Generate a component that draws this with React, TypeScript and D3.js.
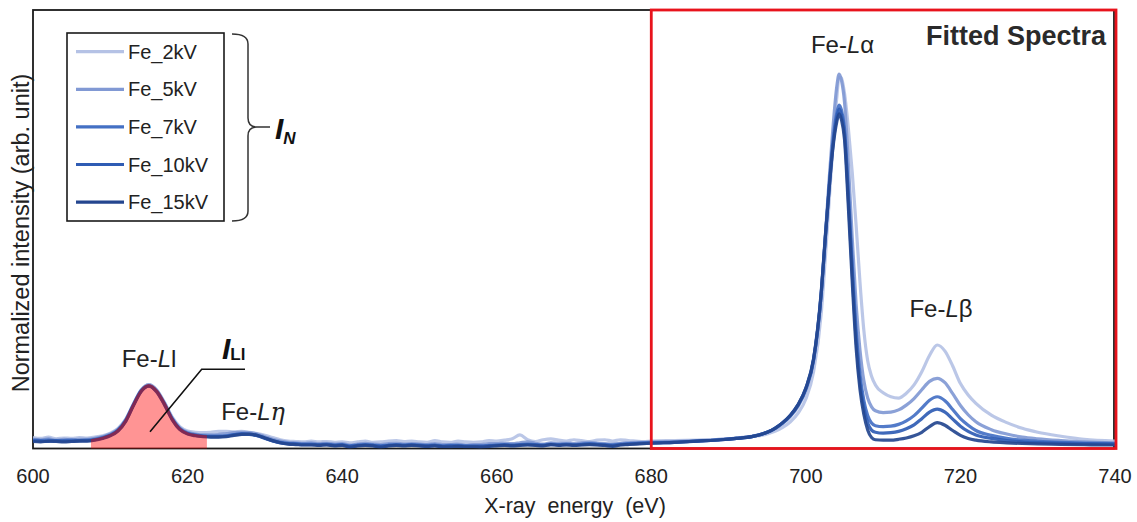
import React from "react";
import * as d3 from "d3";

// ---------- DATA ----------
const energyLeft = [
  600, 601, 602, 603, 604, 605, 606, 607, 608, 609,
  610, 611, 612, 613, 614, 615, 616, 617, 618, 619,
  620, 621, 622, 623, 624, 625, 626, 627, 628, 629,
  630, 631, 632, 633, 634, 635, 636, 637, 638, 639,
  640, 641, 642, 643, 644, 645, 646, 647, 648, 649,
  650, 651, 652, 653, 654, 655, 656, 657, 658, 659,
  660, 661, 662, 663, 664, 665, 666, 667, 668, 669,
  670, 671, 672, 673, 674, 675, 676, 677, 678, 679,
  680,
];
const energyRight = [
  683, 686, 689, 691, 693, 695, 696, 697, 698, 699,
  700, 701, 702, 702.5, 703, 703.5, 704, 704.3, 704.6, 705,
  705.5, 706, 706.5, 707, 707.5, 708, 708.5, 709, 710, 711,
  712, 713, 714, 715, 716, 717, 718, 719, 720, 721,
  722, 724, 726, 728, 730, 733, 736, 740,
];

const fe2kVLeft = [
  2.5, 2.3, 2.6, 2.2, 2.4, 2.3, 2.5, 2.4, 2.6, 2.9,
  3.5, 4.6, 6.7, 10.2, 13.4, 14.6, 13.4, 10.6, 7.2, 5.0,
  4.0, 3.7, 3.6, 3.7, 3.9, 3.9, 3.8, 3.9, 3.7, 3.4,
  3.0, 2.5, 2.0, 1.7, 1.6, 1.5, 1.7, 1.5, 1.6, 1.4,
  1.5, 1.3, 1.5, 1.7, 1.4, 1.5, 1.7, 1.8, 1.6, 1.7,
  1.5, 1.4, 1.8, 1.5, 1.4, 1.7, 1.5, 1.4, 1.5, 1.8,
  1.7, 1.9, 2.2, 3.1, 2.0, 1.6, 2.0, 2.2, 1.9, 1.7,
  2.0, 1.8, 1.6, 1.9, 2.0, 1.7, 2.0, 1.8, 1.7, 1.6,
  1.7,
];
const fe2kVRight = [
  1.8, 1.9, 2.1, 2.3, 2.7, 3.3, 3.9, 4.8, 6.1, 8.1,
  11.3, 17.5, 31, 43, 56, 69, 80, 84.7, 84.5, 81,
  73, 63, 51, 38, 27, 20, 16.5, 14.5, 12.7, 11.8,
  11.5, 12.6, 14.5, 17.5, 21.2, 23.6, 22.2, 18.8, 14.8, 12.2,
  10.3, 7.6, 5.9, 4.6, 3.7, 2.8, 2.1, 1.7,
];

const fe5kVLeft = [
  2.1, 2.0, 2.2, 1.9, 2.1, 2.0, 2.1, 2.1, 2.3, 2.7,
  3.3, 4.4, 6.6, 10.1, 13.3, 14.5, 13.3, 10.4, 7.0, 4.7,
  3.7, 3.3, 3.1, 3.1, 3.2, 3.4, 3.6, 3.7, 3.6, 3.3,
  2.7, 2.1, 1.7, 1.4, 1.3, 1.2, 1.3, 1.1, 1.2, 1.0,
  1.1, 0.8, 1.0, 1.2, 1.0, 0.9, 1.1, 1.2, 1.0, 1.1,
  1.0, 0.9, 1.1, 0.9, 0.9, 1.0, 0.8, 0.9, 0.9, 1.1,
  1.1, 1.2, 1.1, 1.3, 1.5, 1.2, 1.0, 1.3, 1.2, 1.2,
  1.1, 1.3, 1.4, 1.2, 1.1, 1.0, 1.2, 1.3, 1.4, 1.4,
  1.5,
];
const fe5kVRight = [
  1.6, 1.8, 2.1, 2.4, 2.8, 3.7, 4.5, 5.7, 7.3, 9.6,
  13.3, 20.0, 35.5, 48, 61, 73, 82.5, 85.4, 84, 79,
  65, 48, 33, 22.5, 15.5, 11.5, 9.5, 8.6, 8.2, 8.3,
  8.8, 9.9, 11.4, 13.4, 15.3, 16.0, 15.0, 12.5, 9.8, 7.7,
  6.1, 4.3, 3.3, 2.6, 2.2, 1.8, 1.5, 1.3,
];

const fe7kVLeft = [
  1.9, 1.8, 1.9, 1.7, 1.8, 1.9, 1.8, 1.9, 2.1, 2.5,
  3.1, 4.2, 6.4, 10.0, 13.2, 14.3, 13.1, 10.2, 6.8, 4.5,
  3.5, 3.1, 2.9, 2.8, 2.8, 2.9, 3.2, 3.4, 3.3, 3.0,
  2.4, 1.8, 1.4, 1.2, 1.1, 1.0, 1.0, 0.9, 1.0, 0.8,
  0.9, 0.6, 0.8, 0.9, 0.8, 0.6, 0.8, 0.9, 0.8, 0.9,
  0.8, 0.7, 0.8, 0.6, 0.7, 0.7, 0.6, 0.6, 0.6, 0.7,
  0.8, 0.9, 0.8, 0.9, 1.0, 0.9, 0.8, 1.0, 0.9, 1.0,
  0.9, 1.0, 1.1, 1.0, 0.9, 0.8, 1.0, 1.1, 1.2, 1.3,
  1.3,
];
const fe7kVRight = [
  1.4, 1.7, 2.0, 2.3, 2.7, 3.7, 4.6, 5.8, 7.5, 9.9,
  13.6, 20.2, 35.5, 47.5, 59.5, 70, 76.5, 78.3, 77.2, 73,
  58.5, 42, 27, 17, 11, 7.5, 5.8, 5.2, 5.0, 5.1,
  5.5, 6.3, 7.5, 9.2, 11.0, 11.8, 10.9, 8.9, 6.8, 5.3,
  4.1, 3.0, 2.3, 1.9, 1.65, 1.4, 1.25, 1.1,
];

const fe10kVLeft = [
  1.8, 1.7, 1.6, 1.8, 1.7, 1.7, 1.8, 1.8, 2.0, 2.4,
  3.0, 4.1, 6.3, 9.9, 13.1, 14.2, 12.9, 10.0, 6.7, 4.4,
  3.4, 3.0, 2.8, 2.7, 2.7, 2.8, 3.1, 3.3, 3.2, 2.9,
  2.3, 1.7, 1.3, 1.1, 1.0, 0.9, 0.9, 0.8, 0.9, 0.7,
  0.8, 0.5, 0.7, 0.8, 0.7, 0.5, 0.7, 0.8, 0.7, 0.8,
  0.7, 0.6, 0.7, 0.5, 0.6, 0.6, 0.5, 0.5, 0.5, 0.6,
  0.7, 0.8, 0.7, 0.8, 0.9, 0.8, 0.7, 0.9, 0.8, 0.9,
  0.8, 0.9, 1.0, 0.9, 0.8, 0.7, 0.9, 1.0, 1.1, 1.2,
  1.3,
];
const fe10kVRight = [
  1.4, 1.7, 2.0, 2.3, 2.7, 3.7, 4.6, 5.9, 7.6, 10.0,
  13.7, 20.3, 35.5, 47.5, 59, 69, 75.5, 77.4, 76.2, 71.8,
  57, 40, 25, 15, 9.3, 5.8, 4.2, 3.7, 3.5, 3.6,
  3.9, 4.5, 5.4, 6.8, 8.3, 9.0, 8.3, 6.7, 5.1, 3.9,
  3.1, 2.3, 1.8, 1.5, 1.35, 1.2, 1.1, 1.0,
];

const fe15kVLeft = [
  1.6, 1.5, 1.7, 1.6, 1.5, 1.6, 1.7, 1.7, 1.9, 2.3,
  2.9, 4.0, 6.2, 9.8, 13.0, 14.3, 13.0, 10.1, 6.6, 4.3,
  3.3, 2.9, 2.7, 2.6, 2.6, 2.7, 3.0, 3.2, 3.3, 3.0,
  2.4, 1.8, 1.3, 1.0, 0.9, 0.8, 0.8, 0.7, 0.8, 0.6,
  0.7, 0.3, 0.6, 0.7, 0.6, 0.3, 0.6, 0.7, 0.6, 0.7,
  0.6, 0.5, 0.6, 0.4, 0.4, 0.5, 0.4, 0.4, 0.3, 0.5,
  0.6, 0.7, 0.6, 0.7, 0.8, 0.7, 0.6, 0.9, 0.7, 0.8,
  0.7, 0.8, 0.9, 0.8, 0.7, 0.5, 0.8, 0.9, 1.0, 1.1,
  1.2,
];
const fe15kVRight = [
  1.4, 1.7, 2.0, 2.3, 2.7, 3.7, 4.6, 5.9, 7.6, 10.0,
  13.8, 20.5, 36, 48, 59, 68.5, 74.5, 76.3, 75, 70.5,
  55, 38, 23, 13.5, 7.8, 4.2, 2.5, 2.0, 1.9, 1.9,
  2.1, 2.4, 2.9, 3.7, 5.0, 5.9, 5.3, 4.1, 3.0, 2.3,
  1.9, 1.5, 1.3, 1.15, 1.05, 0.95, 0.85, 0.8,
];

const seriesNames = ["Fe_2kV", "Fe_5kV", "Fe_7kV", "Fe_10kV", "Fe_15kV"];
const seriesValues = [
  [...fe2kVLeft, ...fe2kVRight],
  [...fe5kVLeft, ...fe5kVRight],
  [...fe7kVLeft, ...fe7kVRight],
  [...fe10kVLeft, ...fe10kVRight],
  [...fe15kVLeft, ...fe15kVRight],
];
const seriesColors = ["#b5c2e5", "#8199d4", "#4470c4", "#2f5cb4", "#24468f"];
const energy = [...energyLeft, ...energyRight];

const xTicks = [600, 620, 640, 660, 680, 700, 720, 740];
const llFillRange = [607.5, 622.5];
const fittedRange = [680, 740];

// ---------- CHART ----------
const W = 1137;
const H = 522;
const FONT = "'Liberation Sans', Arial, Helvetica, sans-serif";

export default function App() {
  const x = d3.scaleLinear().domain([600, 740]).range([33, 1115]);
  const y = d3.scaleLinear().domain([0, 100]).range([448.5, 10]);

  const pts = (vals: number[]) => energy.map((e, i) => [e, vals[i]] as [number, number]);
  const line = d3
    .line<[number, number]>()
    .x((d) => x(d[0]))
    .y((d) => y(d[1]))
    .curve(d3.curveMonotoneX);
  const area = d3
    .area<[number, number]>()
    .x((d) => x(d[0]))
    .y0(y(0))
    .y1((d) => y(d[1]))
    .curve(d3.curveMonotoneX);

  const llSeries = pts(seriesValues[4]).filter((d) => d[0] >= 605 && d[0] <= 625);

  const legX = 67, legY = 33, legW = 157, legH = 188;
  const rowY = (i: number) => 51.7 + i * 37.6;

  return (
    <svg
      width={W}
      height={H}
      style={{ position: "absolute", left: 0, top: 0, display: "block", background: "#fff" }}
      fontFamily={FONT}
    >
      <defs>
        <clipPath id="llclip">
          <rect x={x(llFillRange[0])} y={0} width={x(llFillRange[1]) - x(llFillRange[0])} height={y(0)} />
        </clipPath>
        <clipPath id="plotclip">
          <rect x={33} y={10} width={1082} height={438.5} />
        </clipPath>
      </defs>

      {/* frame */}
      <rect x={33} y={10} width={x(740) - 34} height={y(0) - 10} fill="none" stroke="#1a1a1a" strokeWidth={1.8} />

      {/* spectra */}
      <g clipPath="url(#plotclip)">
        {seriesValues.map((vals, i) => (
          <path
            key={seriesNames[i]}
            d={line(pts(vals)) || ""}
            fill="none"
            stroke={seriesColors[i]}
            strokeWidth={3.2}
            strokeOpacity={0.92}
            strokeLinejoin="round"
          />
        ))}
      </g>

      {/* Fe-Ll integrated area */}
      <g clipPath="url(#llclip)" opacity={0.42}>
        <path d={area(llSeries) || ""} fill="#ff0000" stroke="#ff0000" strokeWidth={3.5} />
      </g>

      {/* fitted region */}
      <rect
        x={x(fittedRange[0])}
        y={10}
        width={x(fittedRange[1]) - x(fittedRange[0]) + 1}
        height={y(0) - 10}
        fill="none"
        stroke="#e8131c"
        strokeWidth={2.8}
      />
      <text x={1106} y={45} textAnchor="end" fontSize={27} fontWeight="bold" fill="#2a2a2a">
        Fitted Spectra
      </text>

      {/* peak labels */}
      <text x={842.5} y={53} textAnchor="middle" fontSize={24} fill="#222">
        Fe-<tspan fontStyle="italic">L</tspan>α
      </text>
      <text x={941} y={317} textAnchor="middle" fontSize={24} fill="#222">
        Fe-<tspan fontStyle="italic">L</tspan>β
      </text>
      <text x={149} y={367} textAnchor="middle" fontSize={24} fill="#222">
        Fe-<tspan fontStyle="italic">L</tspan>l
      </text>
      <text x={253} y={420} textAnchor="middle" fontSize={24} fill="#222">
        Fe-<tspan fontStyle="italic">L</tspan>
        <tspan fontStyle="italic" fontFamily="'DejaVu Serif', serif">η</tspan>
      </text>

      {/* I_Ll annotation */}
      <polyline
        points={`150,431.7 201.7,369.3 245,369.3`}
        fill="none"
        stroke="#111"
        strokeWidth={1.6}
      />
      <text x={222} y={359} fontSize={30} fontWeight="bold" fontStyle="italic" fill="#111">
        I
        <tspan fontSize={17} fontStyle="normal" dy={1}>Ll</tspan>
      </text>

      {/* legend */}
      <rect x={legX} y={legY} width={legW} height={legH} fill="#fff" stroke="#1a1a1a" strokeWidth={1.6} />
      {seriesNames.map((n, i) => (
        <g key={n}>
          <line x1={76} x2={124} y1={rowY(i)} y2={rowY(i)} stroke={seriesColors[i]} strokeWidth={3.2} />
          <text x={128} y={rowY(i) + 7} fontSize={20} fill="#222">
            {n}
          </text>
        </g>
      ))}

      {/* bracket + I_N */}
      <path
        d="M232,34 Q248,34 248,44 L248,118 Q248,127 257,127 L270,127 M257,127 Q248,127 248,136 L248,211 Q248,221 232,221"
        fill="none"
        stroke="#333"
        strokeWidth={1.5}
      />
      <text x={275} y={139} fontSize={30} fontWeight="bold" fontStyle="italic" fill="#111">
        I
        <tspan fontSize={17} dy={5}>N</tspan>
      </text>

      {/* axes text */}
      {xTicks.map((t) => (
        <text key={t} x={x(t)} y={483} textAnchor="middle" fontSize={20} fill="#222">
          {t}
        </text>
      ))}
      <text x={575} y={513} textAnchor="middle" fontSize={21.5} fill="#222" style={{ whiteSpace: "pre" }}>
        {"X-ray  energy  (eV)"}
      </text>
      <text
        transform={`translate(29,233) rotate(-90)`}
        textAnchor="middle"
        fontSize={23.5}
        fill="#222"
      >
        Normalized intensity (arb. unit)
      </text>
    </svg>
  );
}
